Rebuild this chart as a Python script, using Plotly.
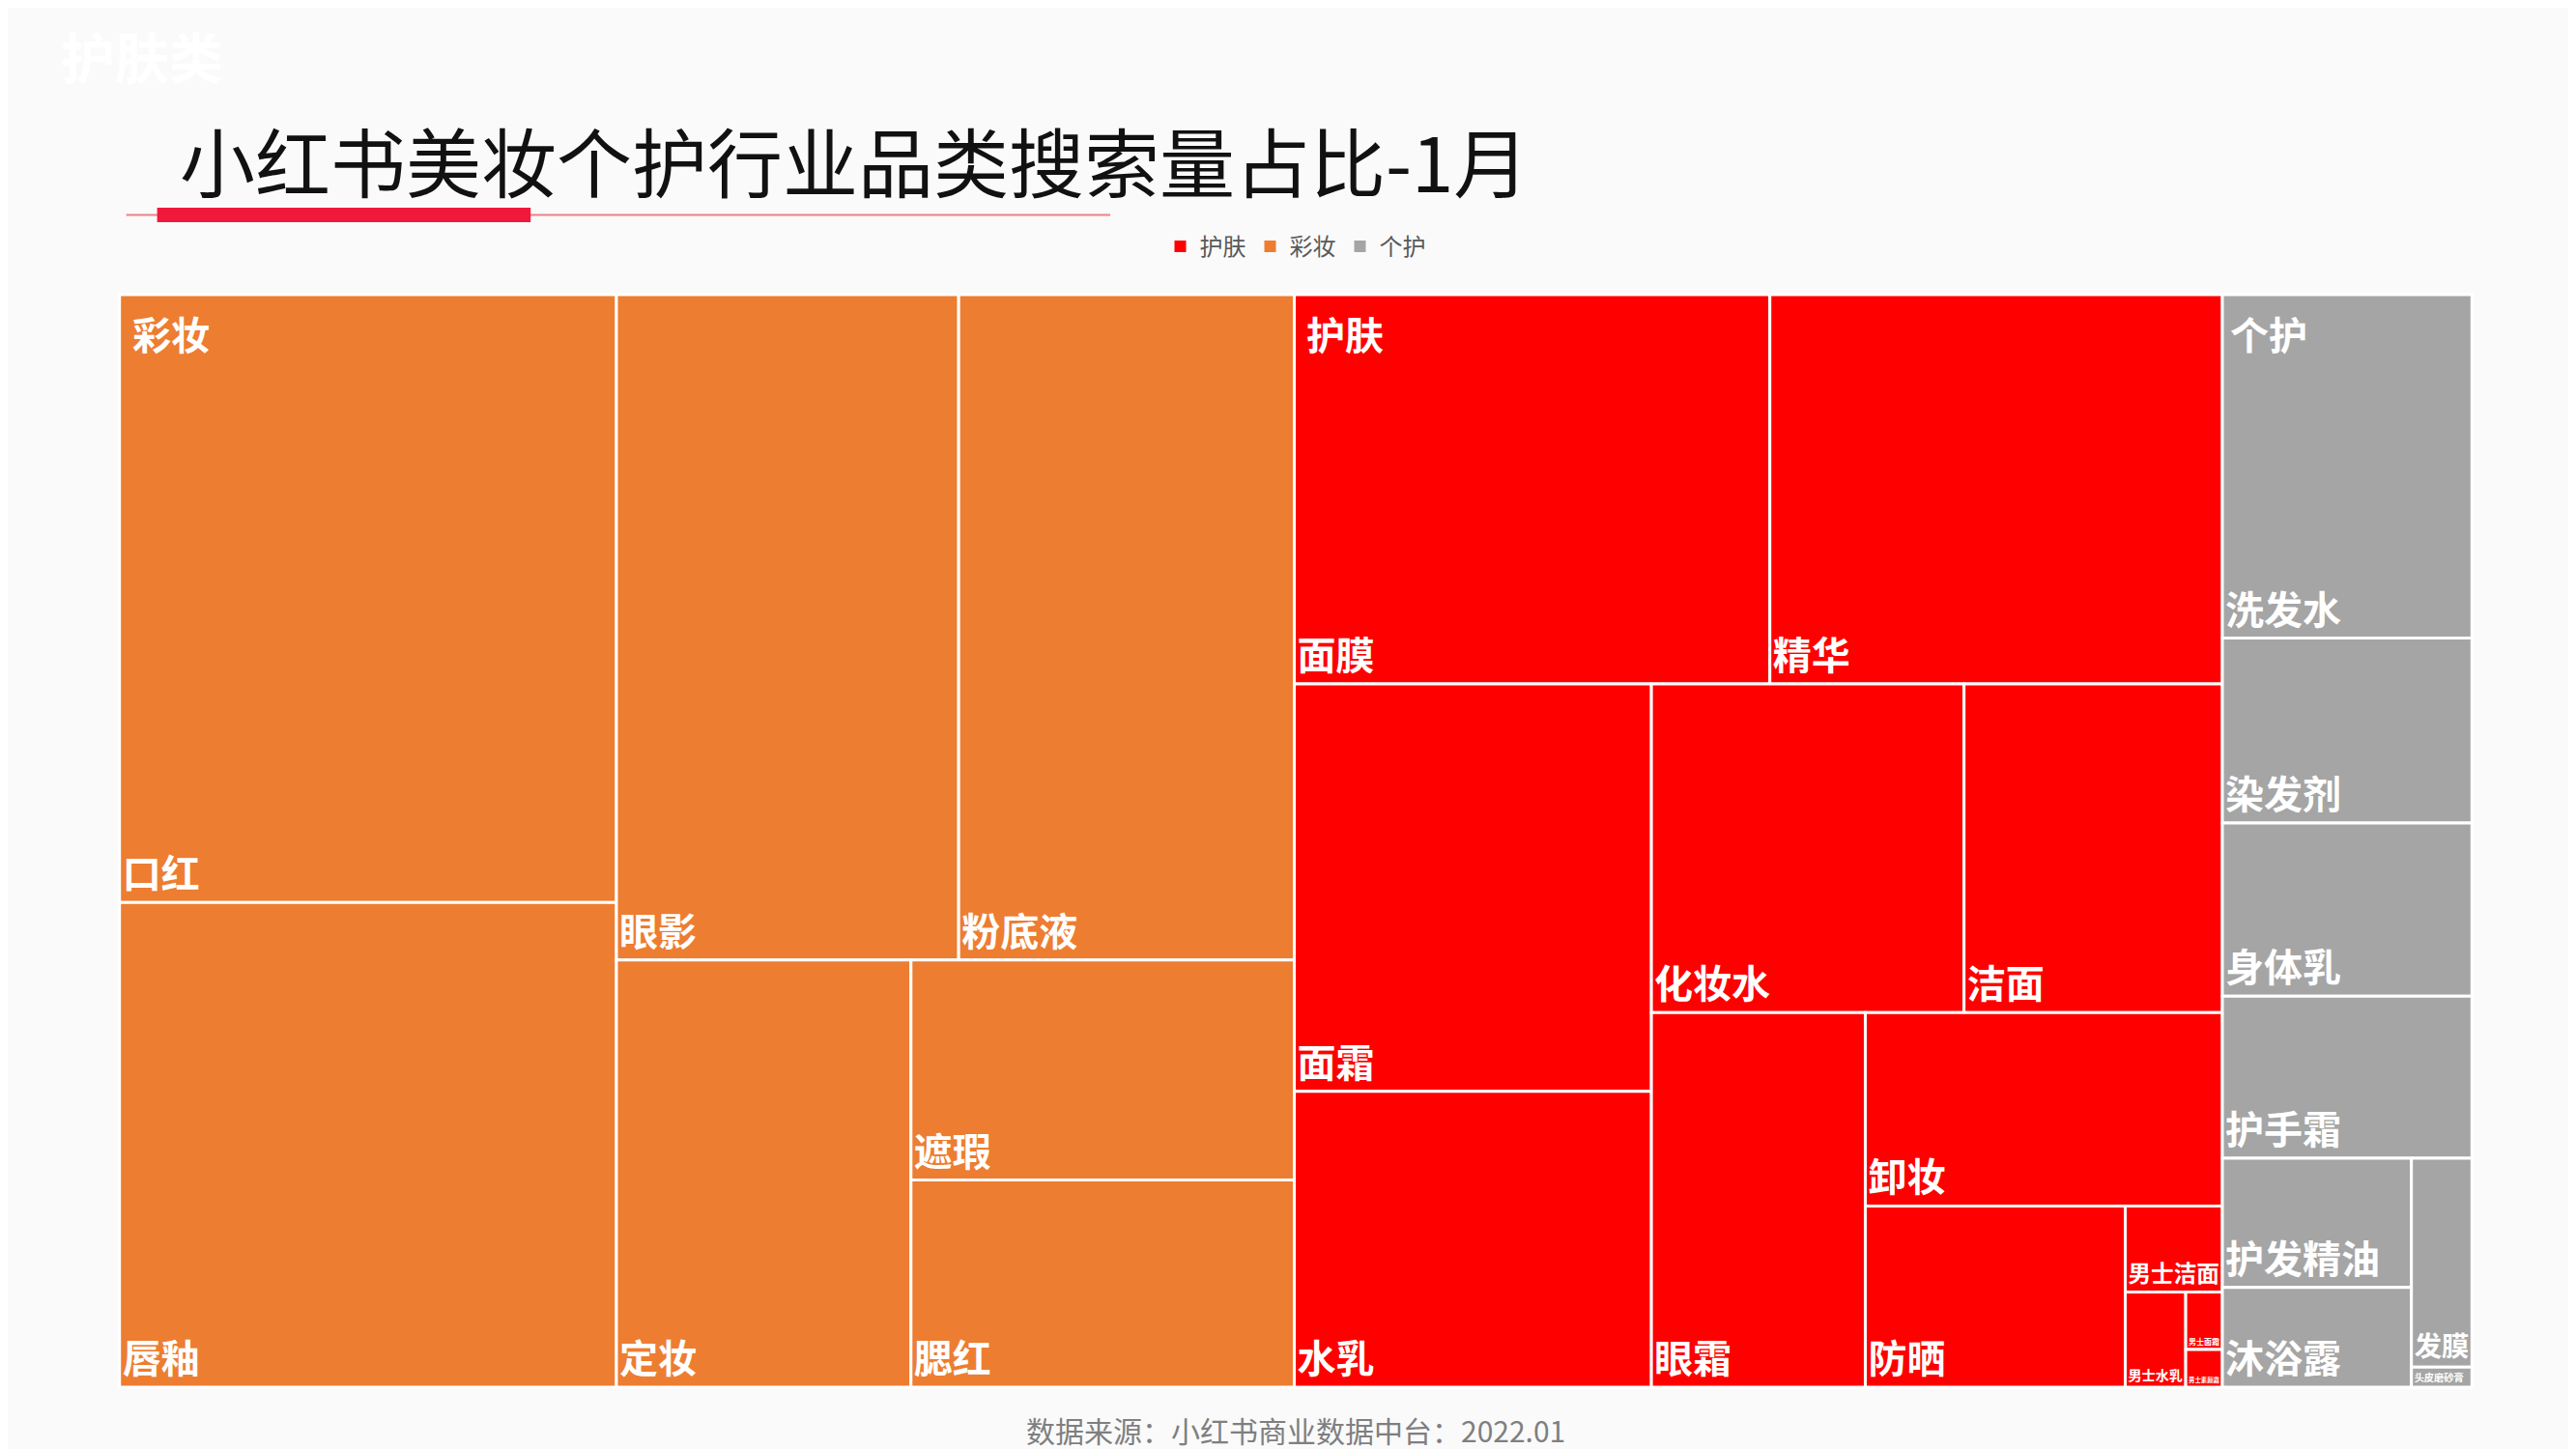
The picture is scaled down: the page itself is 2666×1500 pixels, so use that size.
import plotly.graph_objects as go

groups = ["彩妆", "护肤", "个护"]
group_colors = ["#ED7D31", "#FF0000", "#A5A5A5"]

makeup_labels = ["口红", "唇釉", "眼影", "粉底液", "定妆", "遮瑕", "腮红"]
makeup_values = [111740, 89090, 84240, 82620, 46540, 31200, 29380]

skin_labels = ["面膜", "精华", "面霜", "水乳", "化妆水", "洁面", "眼霜", "卸妆", "防晒",
               "男士洁面", "男士水乳", "男士面霜", "男士素颜霜"]
skin_values = [68490, 65175, 53816, 39060, 38000, 31400, 29640, 25542, 17424,
               3090, 2130, 780, 510]

care_labels = ["洗发水", "染发剂", "身体乳", "护手霜", "护发精油", "沐浴露", "发膜", "头皮磨砂膏"]
care_values = [31710, 17063, 16006, 14949, 9042, 6970, 4675, 450]

ids, labels, parents, values, colors = [], [], [], [], []
for g, c, ls, vs in zip(groups, group_colors,
                        [makeup_labels, skin_labels, care_labels],
                        [makeup_values, skin_values, care_values]):
    ids.append(g); labels.append(g); parents.append(""); values.append(sum(vs)); colors.append(c)
    for l, v in zip(ls, vs):
        ids.append(g + "/" + l); labels.append(l); parents.append(g); values.append(v); colors.append(c)

fig = go.Figure()
fig.add_trace(go.Treemap(
    ids=ids, labels=labels, parents=parents, values=values,
    branchvalues="total", sort=True,
    marker=dict(colors=colors, line=dict(color="white", width=3), pad=dict(t=0, l=0, r=0, b=0)),
    tiling=dict(packing="squarify", pad=0),
    textposition="bottom left",
    textfont=dict(family="Noto Sans CJK SC", size=40, color="white", weight="bold"),
    pathbar=dict(visible=False),
    root=dict(color="rgba(0,0,0,0)"),
    hoverinfo="label+value",
    domain=dict(x=[0.0434, 0.9566], y=[0.048, 0.802]),
))

legend_names = ["护肤", "彩妆", "个护"]
legend_colors = ["#FF0000", "#ED7D31", "#A5A5A5"]
for n, c in zip(legend_names, legend_colors):
    fig.add_trace(go.Scatter(x=[None], y=[None], mode="markers", name=n,
                             marker=dict(symbol="square", size=12, color=c)))

group_label_x = [0.0478, 0.5035, 0.862]
annotations = [
    dict(text="小红书美妆个护行业品类搜索量占比-1月", x=0.066, y=0.895, xref="paper", yref="paper",
         xanchor="left", yanchor="middle", showarrow=False,
         font=dict(family="Noto Sans CJK SC", size=78, color="#111111")),
    dict(text="护肤类", x=0.02, y=0.968, xref="paper", yref="paper", xanchor="left",
         yanchor="middle", showarrow=False,
         font=dict(family="Noto Sans CJK SC", size=56, color="white", weight="bold")),
    dict(text="数据来源：小红书商业数据中台：2022.01", x=0.5, y=0.019, xref="paper", yref="paper",
         xanchor="center", yanchor="middle", showarrow=False,
         font=dict(family="Noto Sans CJK SC", size=30, color="#7F7F7F")),
]
for g, gx in zip(groups, group_label_x):
    annotations.append(dict(text=g, x=gx, y=0.775, xref="paper", yref="paper",
                            xanchor="left", yanchor="middle", showarrow=False,
                            font=dict(family="Noto Sans CJK SC", size=40, color="white", weight="bold")))

fig.update_layout(
    width=2666, height=1500,
    paper_bgcolor="#FAFAFA", plot_bgcolor="rgba(0,0,0,0)",
    margin=dict(l=0, r=0, t=0, b=0),
    xaxis=dict(visible=False), yaxis=dict(visible=False),
    showlegend=True,
    legend=dict(orientation="h", x=0.5, xanchor="center", y=0.835, yanchor="middle",
                font=dict(family="Noto Sans CJK SC", size=24, color="#595959"),
                bgcolor="rgba(0,0,0,0)"),
    font=dict(family="Noto Sans CJK SC"),
    annotations=annotations,
    shapes=[
        dict(type="line", xref="paper", yref="paper", x0=0.046, x1=0.428, y0=0.857, y1=0.857,
             line=dict(color="#F08080", width=2)),
        dict(type="rect", xref="paper", yref="paper", x0=0.058, x1=0.203, y0=0.852, y1=0.862,
             fillcolor="#F0193C", line=dict(width=0)),
    ],
)

fig.write_html("out.html")
